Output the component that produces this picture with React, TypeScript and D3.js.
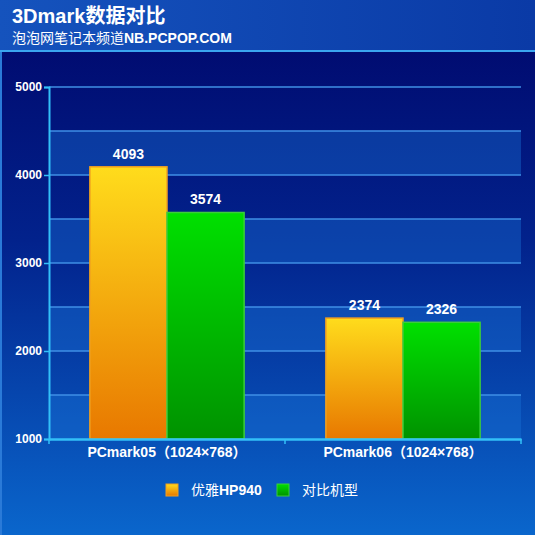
import React, { useEffect, useRef } from 'react';
import * as d3 from 'd3';

const categories = ['PCmark05（1024×768）', 'PCmark06（1024×768）'];
const seriesNames = ['优雅HP940', '对比机型'];
const hp940 = [4093, 2374];
const rival = [3574, 2326];
const yTicks = [1000, 2000, 3000, 4000, 5000];
const gridValues = [1000, 1500, 2000, 2500, 3000, 3500, 4000, 4500, 5000];

const W = 535;
const H = 535;

const App: React.FC = () => {
  const ref = useRef<SVGSVGElement | null>(null);

  useEffect(() => {
    if (!ref.current) return;
    const svg = d3.select(ref.current);
    svg.selectAll('*').remove();

    const margin = { top: 87, right: 14, bottom: 96, left: 49 };
    const font = 'Arial, "Liberation Sans", "Noto Sans CJK SC", sans-serif';

    const defs = svg.append('defs');
    const bg = defs.append('linearGradient').attr('id', 'bg').attr('x1', 0).attr('y1', 0).attr('x2', 0).attr('y2', 1);
    bg.append('stop').attr('offset', '0%').attr('stop-color', '#00066a');
    bg.append('stop').attr('offset', '45%').attr('stop-color', '#02228c');
    bg.append('stop').attr('offset', '100%').attr('stop-color', '#0a66cc');

    const head = defs.append('linearGradient').attr('id', 'head').attr('x1', 0).attr('y1', 0).attr('x2', 1).attr('y2', 0);
    head.append('stop').attr('offset', '0%').attr('stop-color', '#1553bd');
    head.append('stop').attr('offset', '100%').attr('stop-color', '#0a3aa6');

    const gOrange = defs.append('linearGradient').attr('id', 'gOrange').attr('x1', 0).attr('y1', 0).attr('x2', 0).attr('y2', 1);
    gOrange.append('stop').attr('offset', '0%').attr('stop-color', '#ffdc1c');
    gOrange.append('stop').attr('offset', '100%').attr('stop-color', '#e87800');
    const gGreen = defs.append('linearGradient').attr('id', 'gGreen').attr('x1', 0).attr('y1', 0).attr('x2', 0).attr('y2', 1);
    gGreen.append('stop').attr('offset', '0%').attr('stop-color', '#00e000');
    gGreen.append('stop').attr('offset', '100%').attr('stop-color', '#009200');

    // background
    svg.append('rect').attr('width', W).attr('height', H).attr('fill', 'url(#bg)');
    svg.append('rect').attr('width', W).attr('height', 51).attr('fill', 'url(#head)');
    svg.append('rect').attr('y', 50).attr('width', W).attr('height', 2).attr('fill', '#3aa6f0');
    svg.append('rect').attr('x', 0).attr('y', 52).attr('width', 2).attr('height', H - 52).attr('fill', '#2a7ad8');

    svg.append('text').attr('x', 12).attr('y', 23).attr('fill', '#fff')
      .attr('font-family', font).attr('font-weight', 'bold').attr('font-size', 20)
      .text('3Dmark数据对比');
    svg.append('text').attr('x', 12).attr('y', 43).attr('fill', '#fff')
      .attr('font-family', font).attr('font-size', 14)
      .call((t) => {
        t.append('tspan').text('泡泡网笔记本频道');
        t.append('tspan').attr('font-weight', 'bold').text('NB.PCPOP.COM');
      });

    const x0 = d3.scaleBand<string>().domain(categories)
      .range([margin.left, W - margin.right]).paddingInner(0).paddingOuter(0);
    const x1 = d3.scaleBand<number>().domain([0, 1])
      .range([0, x0.bandwidth()]).paddingInner(0).paddingOuter(0.53);
    const y = d3.scaleLinear().domain([1000, 5000]).range([H - margin.bottom, margin.top]);

    // alternating bands
    for (let i = 0; i < gridValues.length - 1; i += 2) {
      svg.append('rect')
        .attr('x', margin.left).attr('width', W - margin.right - margin.left)
        .attr('y', y(gridValues[i + 1])).attr('height', y(gridValues[i]) - y(gridValues[i + 1]))
        .attr('fill', '#1a74d8').attr('fill-opacity', 0.4);
    }
    svg.append('g').selectAll('line').data(gridValues.slice(1)).enter().append('line')
      .attr('x1', margin.left).attr('x2', W - margin.right)
      .attr('y1', (d) => y(d)).attr('y2', (d) => y(d))
      .attr('stroke', '#3f8fe6').attr('stroke-width', 1.5);

    // bars
    const series = [hp940, rival];
    const fills = ['url(#gOrange)', 'url(#gGreen)'];
    const strokes = ['#f0a020', '#3ccc3c'];
    categories.forEach((c, ci) => {
      series.forEach((s, si) => {
        const bx = x0(c)! + x1(si)!;
        svg.append('rect')
          .attr('x', bx).attr('y', y(s[ci]))
          .attr('width', x1.bandwidth()).attr('height', y(1000) - y(s[ci]))
          .attr('fill', fills[si]).attr('stroke', strokes[si]).attr('stroke-width', 1.5);
        svg.append('text')
          .attr('x', bx + x1.bandwidth() / 2).attr('y', y(s[ci]) - 8)
          .attr('text-anchor', 'middle').attr('fill', '#fff')
          .attr('font-family', font).attr('font-weight', 'bold').attr('font-size', 14)
          .text(s[ci]);
      });
    });

    // axes
    const yAxis = svg.append('g').attr('transform', `translate(${margin.left},0)`)
      .call(d3.axisLeft(y).tickValues(yTicks).tickSize(5).tickFormat(d3.format('d')));
    yAxis.select('.domain').attr('stroke', '#33c0f8').attr('stroke-width', 2);
    yAxis.selectAll('.tick line').attr('stroke', '#33c0f8').attr('stroke-width', 1.5);
    yAxis.selectAll('.tick text').attr('fill', '#fff').attr('font-family', font)
      .attr('font-weight', 'bold').attr('font-size', 12).attr('x', -7);

    const xAxis = svg.append('g').attr('transform', `translate(0,${y(1000)})`)
      .call(d3.axisBottom(x0).tickSize(0).tickSizeOuter(0));
    xAxis.select('.domain').attr('stroke', '#33c0f8').attr('stroke-width', 2.5);
    xAxis.selectAll('.tick text').attr('fill', '#fff').attr('font-family', font)
      .attr('font-weight', 'bold').attr('font-size', 14).attr('dy', '1.1em');
    const bounds = [x0.range()[0], x0(categories[1])!, x0.range()[1]];
    svg.append('g').selectAll('line').data(bounds).enter().append('line')
      .attr('x1', (d) => d).attr('x2', (d) => d)
      .attr('y1', y(1000)).attr('y2', y(1000) + 5)
      .attr('stroke', '#33c0f8').attr('stroke-width', 1.5);

    // legend
    const legend = svg.append('g').attr('transform', 'translate(0,490)');
    const legendX = [166, 277];
    seriesNames.forEach((n, i) => {
      legend.append('rect').attr('x', legendX[i]).attr('y', -6).attr('width', 12).attr('height', 12)
        .attr('fill', fills[i]).attr('stroke', strokes[i]);
      legend.append('text').attr('x', legendX[i] + 25).attr('y', 5).attr('fill', '#fff')
        .attr('font-family', font).attr('font-size', 14)
        .call((t) => {
          const m = n.match(/^([^A-Za-z0-9]*)(.*)$/)!;
          t.append('tspan').text(m[1]);
          if (m[2]) t.append('tspan').attr('font-weight', 'bold').text(m[2]);
        });
    });
  }, []);

  return (
    <svg ref={ref} width={W} height={H}
      style={{ position: 'absolute', left: 0, top: 0, display: 'block' }} />
  );
};

export default App;
